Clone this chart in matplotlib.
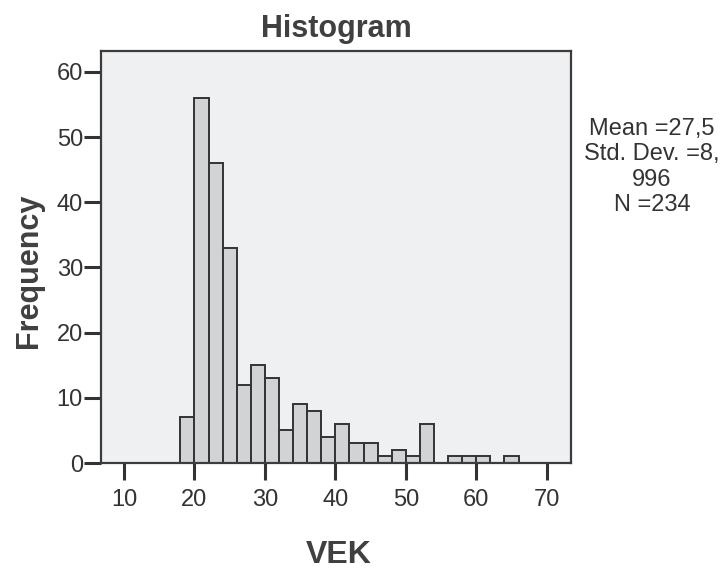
import matplotlib
matplotlib.use('Agg')
import matplotlib.pyplot as plt

# histogram of VEK, bin width 2 starting at 18
bin_start = 18
bin_width = 2
counts = [7, 56, 46, 33, 12, 15, 13, 5, 9, 8, 4, 6, 3, 3, 1, 2, 1, 6, 0, 1, 1, 1, 0, 1]
x_ticks = [10, 20, 30, 40, 50, 60, 70]
y_ticks = [0, 10, 20, 30, 40, 50, 60]
stats_text = 'Mean =27,5\nStd. Dev. =8,\n996\nN =234'

narrow = ['Liberation Sans Narrow', 'Liberation Sans', 'DejaVu Sans']
plt.rcParams['font.family'] = ['Liberation Sans', 'DejaVu Sans']

fig = plt.figure(figsize=(7.25, 5.69), dpi=100)
ax = fig.add_axes([101 / 725, 1 - 463 / 569, 470 / 725, 412 / 569])
ax.set_facecolor('#eff0f2')

lefts = [bin_start + i * bin_width for i in range(len(counts))]
for left, c in zip(lefts, counts):
    if c > 0:
        ax.bar(left, c, width=bin_width, align='edge', color='#d2d3d5',
               edgecolor='#333333', linewidth=1.4, zorder=2)

ax.set_xlim(6.74, 73.45)
ax.set_ylim(0, 63.2)
ax.set_xticks(x_ticks)
ax.set_yticks(y_ticks)
ax.tick_params(axis='both', direction='out', length=12, width=2.2, color='#333333',
               labelcolor='#333333', labelsize=17)
ax.tick_params(axis='x', pad=7)
ax.tick_params(axis='y', pad=1)
for lab in ax.get_xticklabels() + ax.get_yticklabels():
    lab.set_family(narrow)

for sp in ax.spines.values():
    sp.set_color('#3c3c3c')
    sp.set_linewidth(1.6)

ax.set_title('Histogram', fontsize=22, fontweight='bold', color='#404040', pad=10)
ax.set_xlabel('VEK', fontsize=23, fontweight='bold', color='#404040')
ax.xaxis.set_label_coords(0.506, -0.187)
ax.set_ylabel('Frequency', fontsize=22, fontweight='bold', color='#404040')
ax.yaxis.set_label_coords(-0.121, 0.466)

fig.text(652 / 725, 1 - 167 / 569, stats_text, ha='center', va='center',
         multialignment='center', fontsize=17, color='#333333', family=narrow)

fig.savefig('out.png', dpi=100)
